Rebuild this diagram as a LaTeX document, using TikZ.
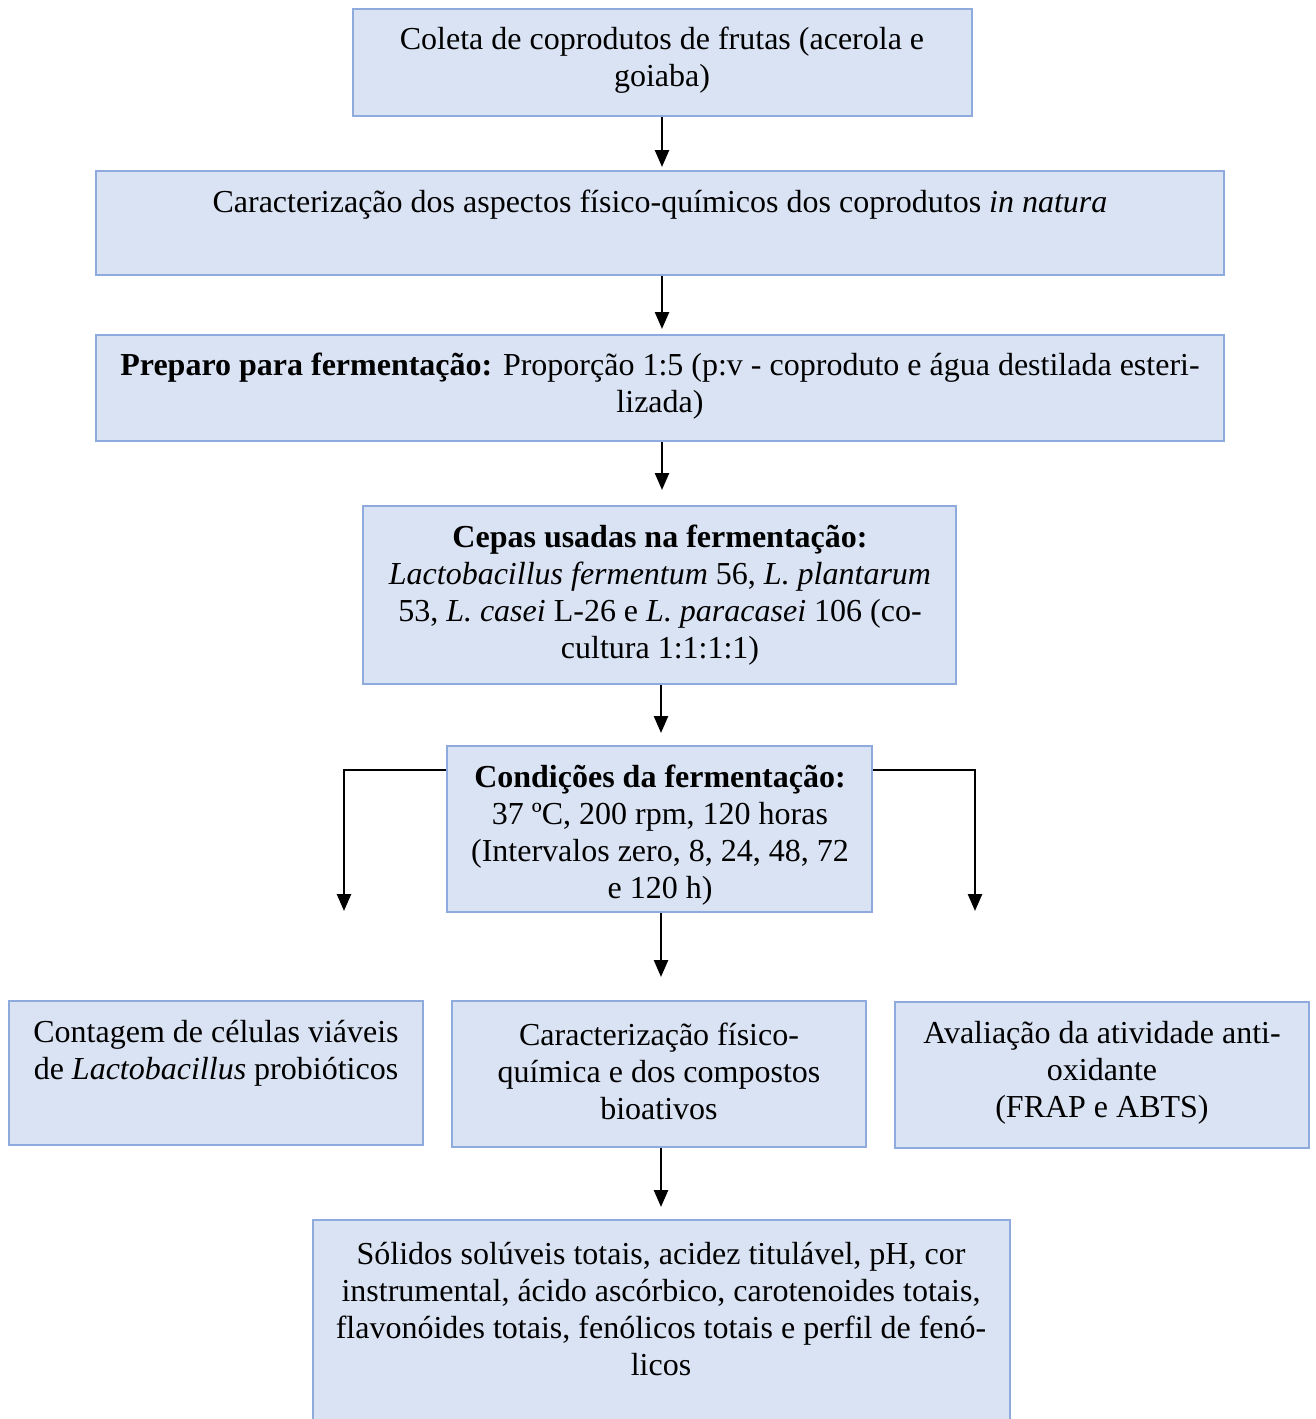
\documentclass[tikz,border=0pt]{standalone}
\usepackage{fontspec}
\setmainfont{Liberation Serif}
\usetikzlibrary{arrows.meta}
\definecolor{boxfill}{HTML}{DAE3F3}
\definecolor{boxline}{HTML}{8FAADC}
\tikzset{
  box/.style={draw=boxline, fill=boxfill, line width=2pt, inner sep=0pt, rectangle},
  txt/.style={align=center, inner sep=0pt, font=\fontsize{32}{37}\selectfont},
  arr/.style={line width=2.5pt, -{Triangle[width=14pt,length=17pt]}},
}
\begin{document}
\begin{tikzpicture}[x=1pt,y=-1pt]
\useasboundingbox (0,0) rectangle (1315,1419);
% boxes
\node[box, minimum width=619pt, minimum height=107pt] (b1) at (662.5,62.5) {};
\node[box, minimum width=1128pt, minimum height=104pt] (b2) at (660,223) {};
\node[box, minimum width=1128pt, minimum height=106pt] (b3) at (660,388) {};
\node[box, minimum width=593pt, minimum height=178pt] (b4) at (659.5,595) {};
\node[box, minimum width=425pt, minimum height=166pt] (b5) at (659.5,829) {};
\node[box, minimum width=414pt, minimum height=144pt] (b6) at (216,1073) {};
\node[box, minimum width=414pt, minimum height=146pt] (b7) at (659,1074) {};
\node[box, minimum width=414pt, minimum height=146pt] (b8) at (1102,1075) {};
\node[box, minimum width=697pt, minimum height=220pt] (b9) at (661.5,1330) {};
% texts
\node[txt] (t1) at (662,60.5) {Coleta de coprodutos de frutas (acerola e\\goiaba)};
\node[txt] (t2) at (660,205) {Caracterização dos aspectos físico-químicos dos coprodutos \textit{in natura}};
\node[txt] (t3) at (660,386.5) {\textbf{Preparo para fermentação:} Proporção 1:5 (p:v - coproduto e água destilada esteri-\\lizada)};
\node[txt] (t4) at (660,595.5) {\textbf{Cepas usadas na fermentação:}\\\textit{Lactobacillus fermentum} 56, \textit{L. plantarum}\\53, \textit{L. casei} L-26 e \textit{L. paracasei} 106 (co-\\cultura 1:1:1:1)};
\node[txt] (t5) at (660,835) {\textbf{Condições da fermentação:}\\37 ºC, 200 rpm, 120 horas\\(Intervalos zero, 8, 24, 48, 72\\e 120 h)};
\node[txt] (t6) at (216,1053) {Contagem de células viáveis\\de \textit{Lactobacillus} probióticos};
\node[txt] (t7) at (659,1071.5) {Caracterização físico-\\química e dos compostos\\bioativos};
\node[txt] (t8) at (1102,1073) {Avaliação da atividade anti-\\oxidante\\(FRAP e ABTS)};
\node[txt] (t9) at (661,1309.5) {Sólidos solúveis totais, acidez titulável, pH, cor\\instrumental, ácido ascórbico, carotenoides totais,\\flavonóides totais, fenólicos totais e perfil de fenó-\\licos};
% free ends
\coordinate (e12) at (662,167);
\coordinate (e23) at (662,329);
\coordinate (e34) at (662,490);
\coordinate (e45) at (661,733);
\coordinate (e57) at (661,977);
\coordinate (e79) at (661,1207);
\coordinate (eL) at (344,911);
\coordinate (eR) at (975,911);
% arrows
\draw[arr] (b1.south -| e12) -- (e12);
\draw[arr] (b2.south -| e23) -- (e23);
\draw[arr] (b3.south -| e34) -- (e34);
\draw[arr] (b4.south -| e45) -- (e45);
\draw[arr] (b5.south -| e57) -- (e57);
\draw[arr] (b7.south -| e79) -- (e79);
\draw[arr] (b5.north west) ++(0,25) -| (eL);
\draw[arr] (b5.north east) ++(0,25) -| (eR);
\end{tikzpicture}
\end{document}
